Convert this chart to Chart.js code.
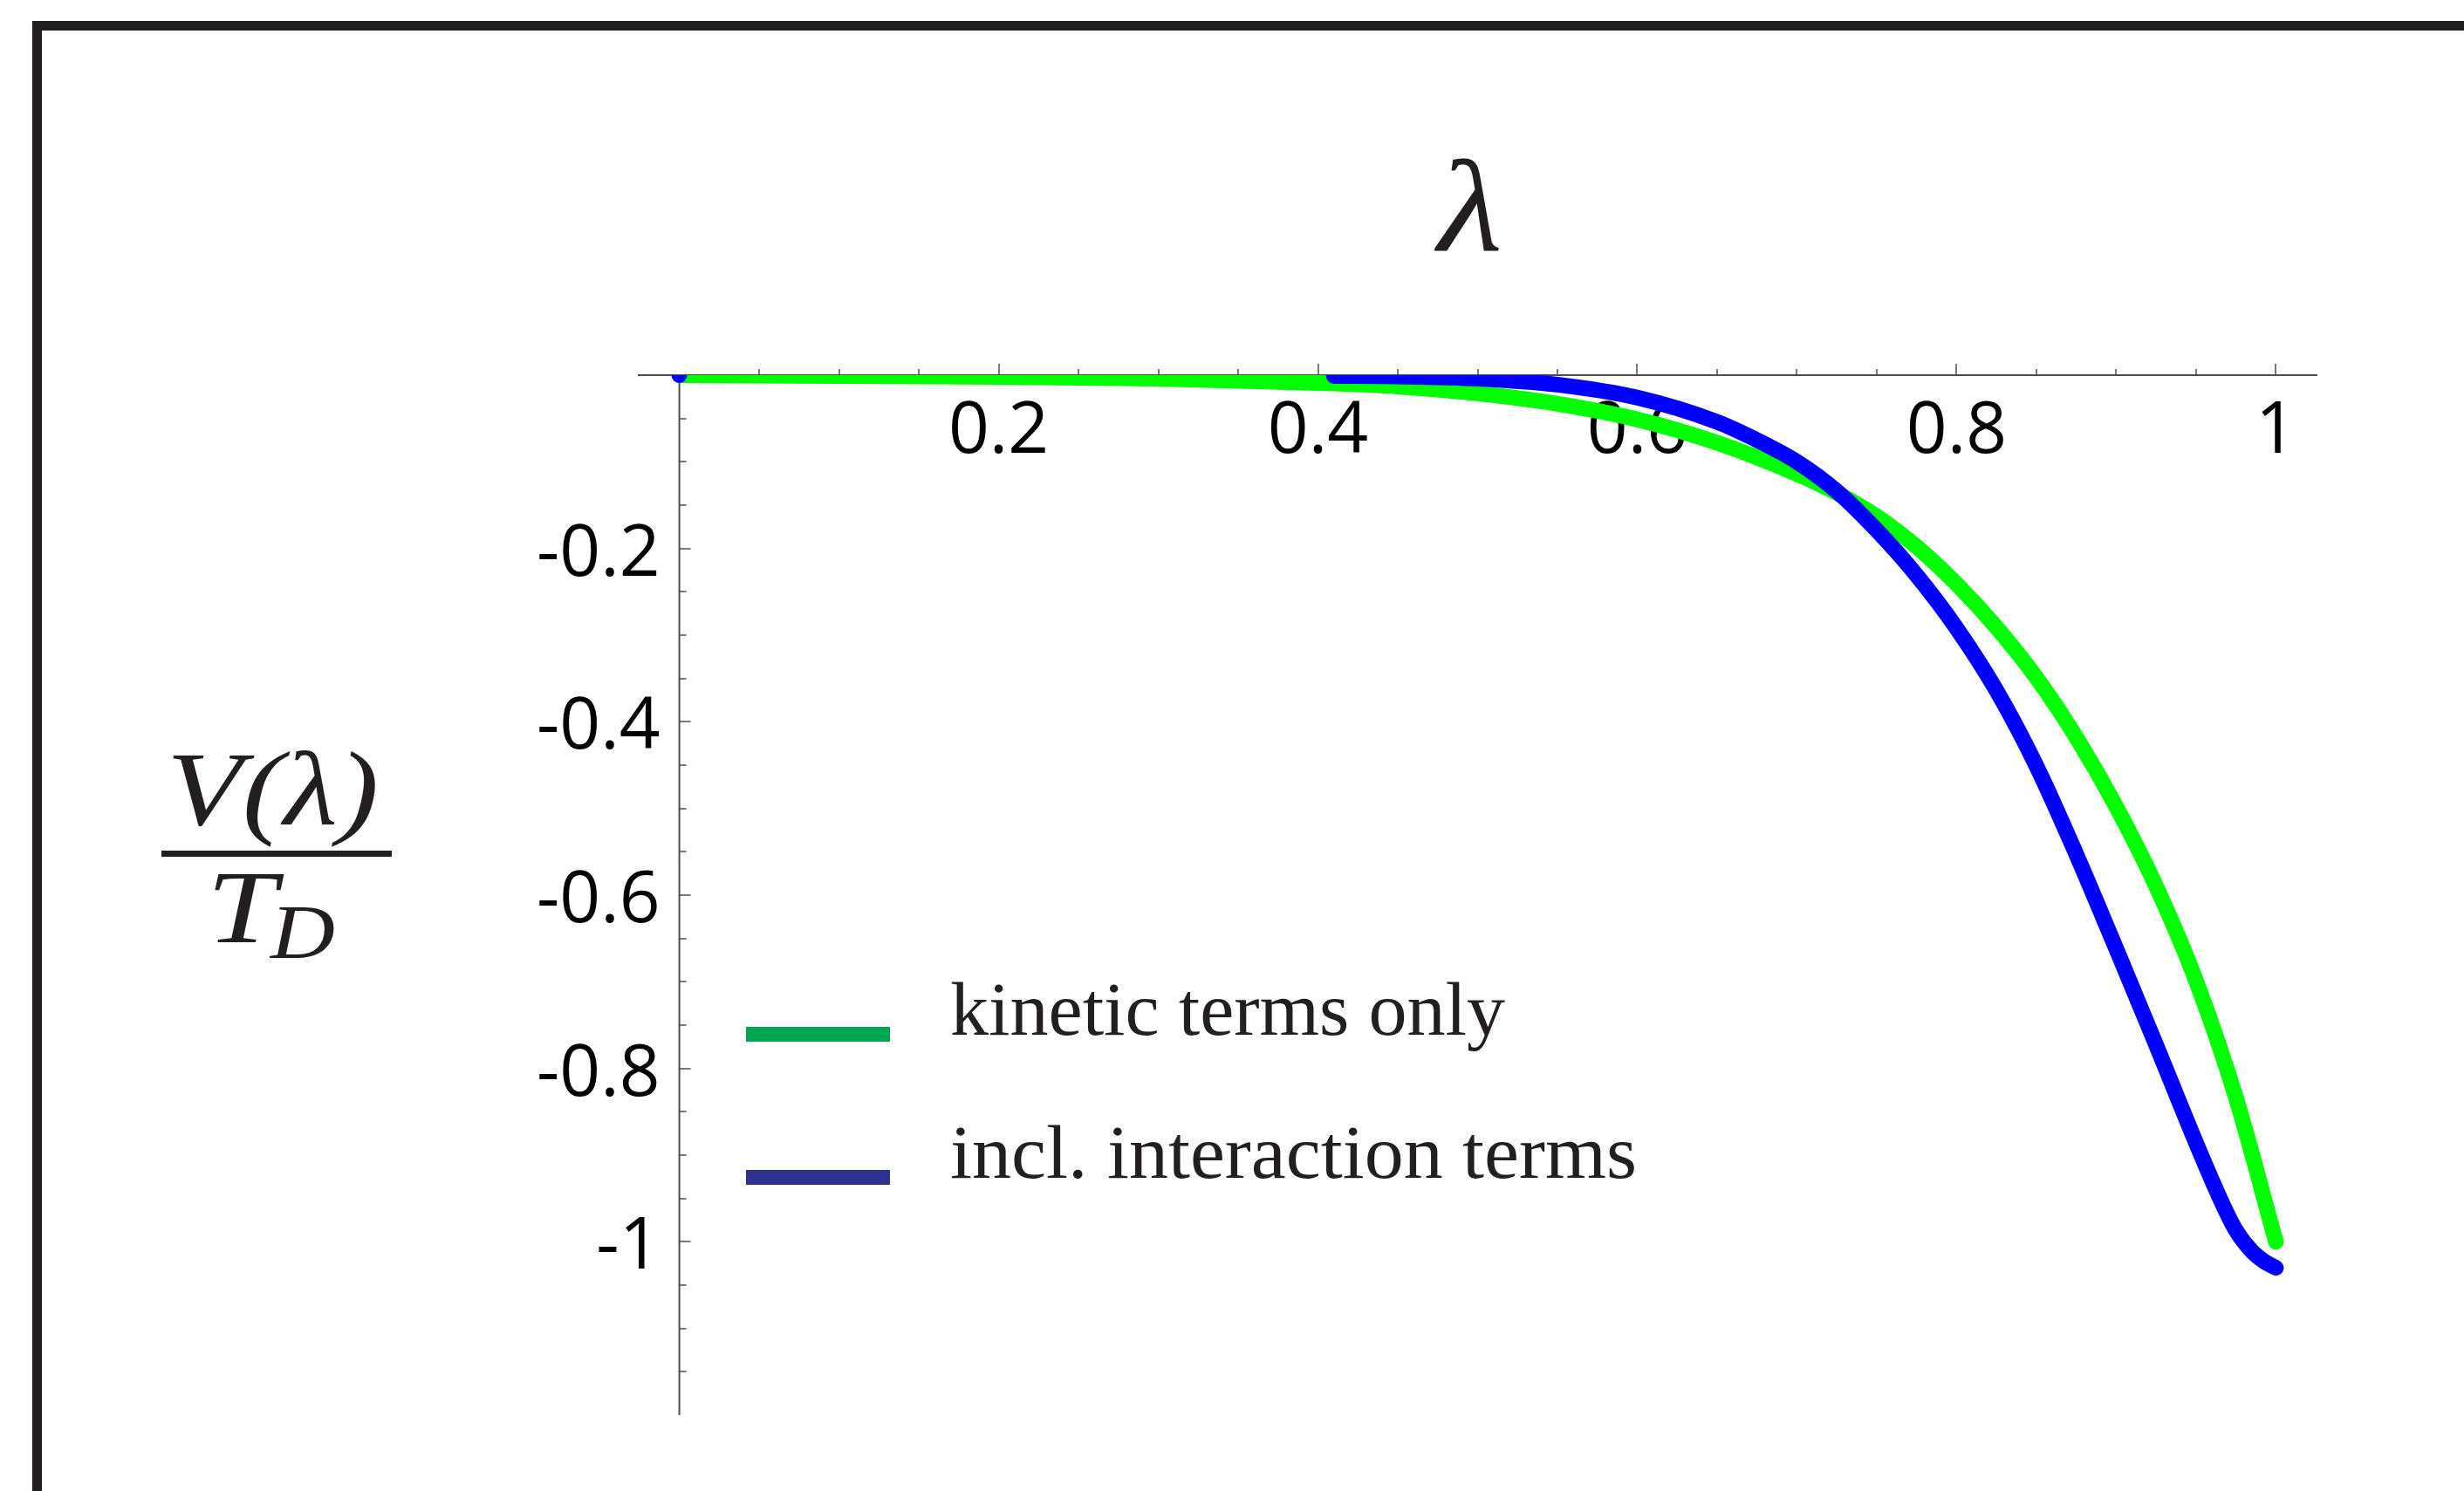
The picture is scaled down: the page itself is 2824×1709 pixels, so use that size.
<!DOCTYPE html>
<html>
<head>
<meta charset="utf-8">
<script src="https://cdn.jsdelivr.net/npm/chart.js@4.4.1/dist/chart.umd.min.js"></script>
<style>
  html, body { margin: 0; padding: 0; background: #fff; }
  #wrap { position: relative; width: 2824px; height: 1709px; overflow: hidden; }
  #frame { position: absolute; left: 37px; top: 24px; width: 4000px; height: 4000px;
           border-top: 11px solid #231f20; border-left: 11px solid #231f20; }
  canvas { position: absolute; left: 0; top: 0; }
</style>
</head>
<body>
<div id="wrap">
  <div id="frame"></div>
  <canvas id="chart" width="2824" height="1709"></canvas>
</div>
<script>
// kinetic terms only
const kineticLambda = [0, 0.1, 0.2, 0.3, 0.4, 0.45, 0.5, 0.55, 0.6, 0.65, 0.7, 0.725, 0.75, 0.775,
                       0.8, 0.825, 0.85, 0.875, 0.9, 0.925, 0.95, 0.975, 1.0];
const kineticV = [0, -0.001, -0.002, -0.004, -0.009, -0.013, -0.021, -0.033, -0.051, -0.078, -0.114, -0.136, -0.163, -0.198,
                  -0.241, -0.291, -0.349, -0.418, -0.498, -0.59, -0.699, -0.834, -1.0];

// incl. interaction terms (null = gap, the curve only shows from ~0.41)
const interactionLambda = [0, 0.2, 0.41, 0.45, 0.5, 0.55, 0.6, 0.65, 0.675, 0.7, 0.725, 0.75, 0.775,
                           0.8, 0.825, 0.85, 0.875, 0.9, 0.925, 0.95, 0.965, 0.975, 0.985, 0.993, 1.0];
const interactionV = [0, null, -0.001, -0.0015, -0.004, -0.011, -0.026, -0.054, -0.075, -0.1, -0.134, -0.179, -0.231,
                      -0.292, -0.364, -0.451, -0.553, -0.662, -0.773, -0.886, -0.95, -0.987, -1.011, -1.023, -1.03];

const xMajorTicks = [0.2, 0.4, 0.6, 0.8, 1];
const xTickLabels = ['0.2', '0.4', '0.6', '0.8', '1'];
const yMajorTicks = [-0.2, -0.4, -0.6, -0.8, -1];
const yTickLabels = ['-0.2', '-0.4', '-0.6', '-0.8', '-1'];

const legendLabels = ['kinetic terms only', 'incl. interaction terms'];
const legendColors = ['#00a64f', '#2e3192'];

const xMinorTicks = [];
for (let i = 1; i <= 20; i++) xMinorTicks.push(i * 0.05);
const yMinorTicks = [];
for (let i = 1; i <= 23; i++) yMinorTicks.push(-i * 0.05);

function toPoints(xs, ys) {
    return xs.map((x, i) => ({ x: x, y: ys[i] }));
}

// text squeezed/stretched to a given width
function fillTextWidth(ctx, text, x, y, width) {
    const w = ctx.measureText(text).width;
    ctx.save();
    ctx.translate(x, y);
    ctx.scale(width / w, 1);
    ctx.fillText(text, 0, 0);
    ctx.restore();
}

const axesPlugin = {
    id: 'mathAxes',
    beforeDatasetsDraw(chart) {
        const ctx = chart.ctx;
        const xs = chart.scales.x;
        const ys = chart.scales.y;
        const area = chart.chartArea;
        const x0 = xs.getPixelForValue(0);
        const y0 = ys.getPixelForValue(0);

        ctx.save();
        ctx.strokeStyle = '#4d4d4d';
        ctx.lineWidth = 2;
        ctx.beginPath();
        ctx.moveTo(area.left, y0);
        ctx.lineTo(area.right, y0);
        ctx.moveTo(x0, y0);
        ctx.lineTo(x0, area.bottom);
        ctx.stroke();

        ctx.lineWidth = 1.5;
        ctx.beginPath();
        xMinorTicks.forEach(v => {
            const px = Math.round(xs.getPixelForValue(v));
            const len = xMajorTicks.some(m => Math.abs(m - v) < 1e-6) ? 13 : 7;
            ctx.moveTo(px, y0);
            ctx.lineTo(px, y0 - len);
        });
        yMinorTicks.forEach(v => {
            const py = Math.round(ys.getPixelForValue(v));
            const len = yMajorTicks.some(m => Math.abs(m - v) < 1e-6) ? 13 : 8;
            ctx.moveTo(x0, py);
            ctx.lineTo(x0 + len, py);
        });
        ctx.stroke();

        ctx.fillStyle = '#000';
        ctx.font = '82px "Open Sans"';
        ctx.textBaseline = 'alphabetic';
        ctx.textAlign = 'center';
        xTickLabels.forEach((t, i) => {
            ctx.fillText(t, xs.getPixelForValue(xMajorTicks[i]), y0 + 89);
        });
        ctx.textAlign = 'right';
        yTickLabels.forEach((t, i) => {
            ctx.fillText(t, x0 - 22, ys.getPixelForValue(yMajorTicks[i]) + 31);
        });
        ctx.restore();
    },
    afterDraw(chart) {
        const ctx = chart.ctx;
        ctx.save();
        ctx.fillStyle = '#231f20';
        ctx.textBaseline = 'alphabetic';
        ctx.textAlign = 'left';

        // x axis title
        ctx.font = 'italic 150px "Liberation Serif"';
        fillTextWidth(ctx, '\u03BB', 1648, 288, 74);

        // y axis title: V(lambda) / T_D
        ctx.font = 'italic 121px "Liberation Serif"';
        fillTextWidth(ctx, 'V(\u03BB)', 191, 945, 243);
        ctx.fillRect(185, 975, 264, 7);
        ctx.font = 'italic 118px "Liberation Serif"';
        fillTextWidth(ctx, 'T', 237, 1080, 80);
        ctx.font = 'italic 88px "Liberation Serif"';
        fillTextWidth(ctx, 'D', 310, 1098, 74);

        // legend
        ctx.font = '86px "Liberation Serif"';
        const rows = [1185, 1349];
        const widths = [636, 787];
        legendLabels.forEach((lab, i) => {
            ctx.fillStyle = legendColors[i];
            ctx.fillRect(855, rows[i] - 8, 165, 17);
            ctx.fillStyle = '#231f20';
            fillTextWidth(ctx, lab, 1089, rows[i] + 1, widths[i]);
        });
        ctx.restore();
    }
};

const ctx = document.getElementById('chart').getContext('2d');
new Chart(ctx, {
    type: 'line',
    data: {
        datasets: [
            {
                label: legendLabels[0],
                data: toPoints(kineticLambda, kineticV),
                borderColor: '#00ff00',
                borderWidth: 18,
                borderCapStyle: 'round',
                borderJoinStyle: 'round',
                cubicInterpolationMode: 'monotone',
                pointRadius: 0,
                clip: 0,
                order: 1
            },
            {
                label: legendLabels[1],
                data: toPoints(interactionLambda, interactionV),
                borderColor: '#0000ff',
                backgroundColor: '#0000ff',
                borderWidth: 18,
                borderCapStyle: 'round',
                borderJoinStyle: 'round',
                cubicInterpolationMode: 'monotone',
                pointRadius: c => (c.dataIndex === 0 ? 9 : 0),
                pointBorderWidth: 0,
                spanGaps: false,
                clip: 0,
                order: 0
            }
        ]
    },
    options: {
        responsive: false,
        animation: false,
        devicePixelRatio: 1,
        layout: { padding: { left: 731, right: 168, top: 430, bottom: 87 } },
        plugins: {
            legend: { display: false },
            tooltip: { enabled: false }
        },
        scales: {
            x: { type: 'linear', min: -0.026, max: 1.026, display: false },
            y: { type: 'linear', min: -1.2, max: 0, display: false }
        }
    },
    plugins: [axesPlugin]
});
</script>
</body>
</html>
